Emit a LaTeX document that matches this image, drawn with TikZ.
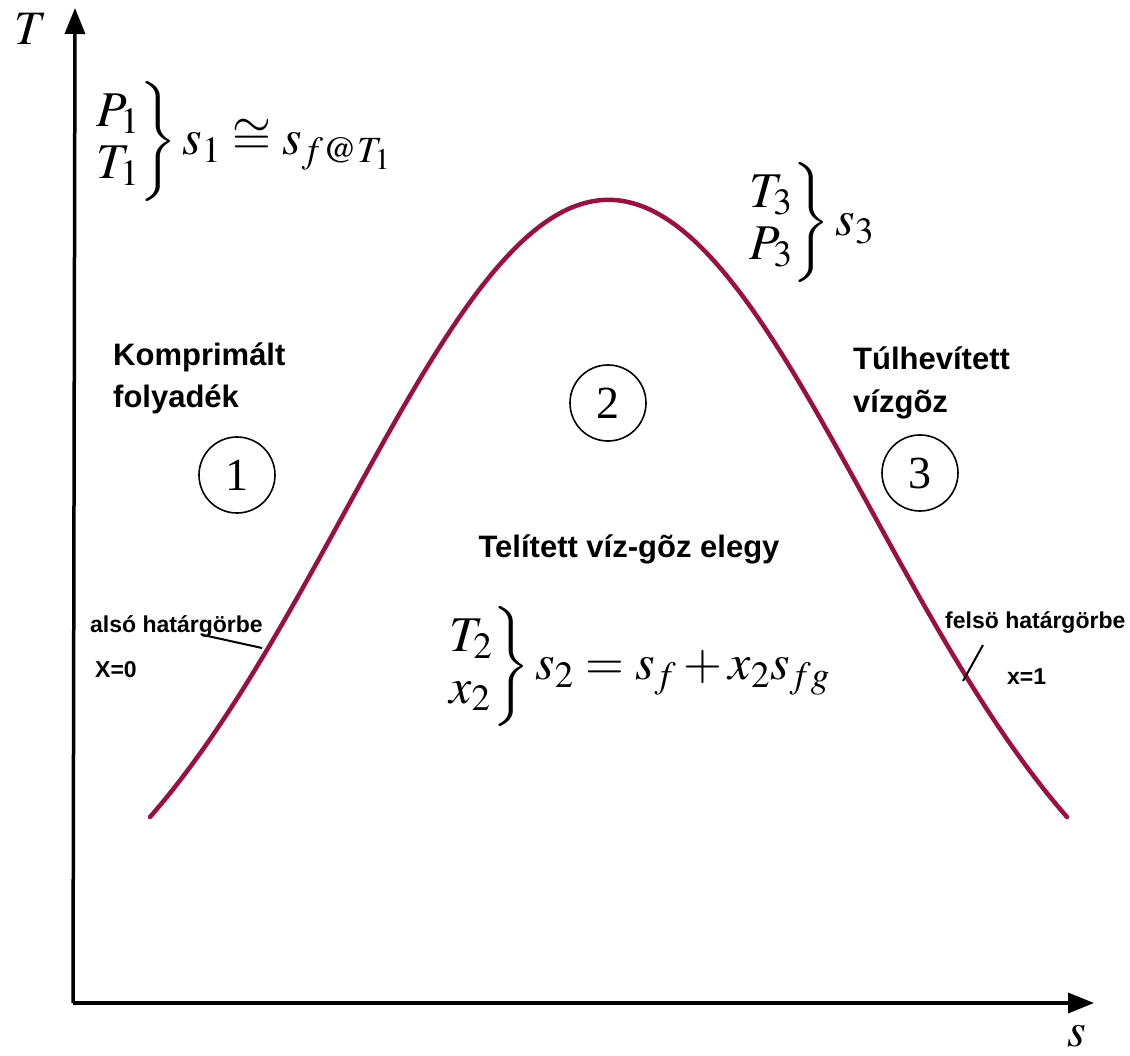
\documentclass[tikz,border=0pt]{standalone}
\usepackage{mathptmx}
\usepackage{fontspec}
\setmainfont{Liberation Serif}
\newfontfamily\lblfont{Liberation Sans}
\usetikzlibrary{arrows.meta}
\definecolor{curvecol}{RGB}{155,16,64}
\tikzset{
  axis/.style={line width=3.5pt, -{Triangle[length=26pt,width=20pt]}},
  satcurve/.style={draw=curvecol, line width=4.5pt, line join=round, line cap=round},
  region/.style={font=\lblfont\bfseries\fontsize{31}{43}\selectfont, align=left, inner sep=0pt},
  small/.style={font=\lblfont\bfseries\fontsize{23}{27}\selectfont, inner sep=0pt},
  stcircle/.style={draw, circle, line width=1.6pt, minimum size=76pt, inner sep=0pt, font=\fontsize{46}{50}\selectfont},
  formula/.style={font=\fontsize{50}{52}\selectfont, inner sep=0pt},
  axlabel/.style={font=\fontsize{48}{52}\selectfont, inner sep=0pt},
  leader/.style={line width=2pt}
}
\begin{document}
\begin{tikzpicture}[x=1pt,y=-1pt]
\useasboundingbox (0,0) rectangle (1130,1056);
% axes
\coordinate (O) at (75,1003);
\coordinate (Ytip) at (75,8);
\coordinate (Xtip) at (1094,1003);
\draw[axis] (73,1003) -- (Ytip);
\draw[axis] (73,1003) -- (Xtip);
\node[axlabel] (Tlab) at (31,29) {$T$};
\node[axlabel] (slab) at (1077,1036) {$s$};
% saturation curve
\draw[satcurve] plot[domain=150:1067, samples=140, smooth] (\x, {200+790*(1-exp(-((\x-608.5)/372)^2))});
% formulas
\node[formula, anchor=west] (f1) at (95,142) {$\left.\begin{array}{@{}l@{}}P_1\\ T_1\end{array}\right\}s_1\cong s_{f@T_1}$};
\node[formula, anchor=west] (f3) at (748,223) {$\left.\begin{array}{@{}l@{}}T_3\\ P_3\end{array}\right\}s_3$};
\node[formula, anchor=west] (f2) at (448,667) {$\left.\begin{array}{@{}l@{}}T_2\\ x_2\end{array}\right\}s_2=s_f+x_2s_{fg}$};
% region labels
\node[region, anchor=base west] (r1) at (113,408) {Komprimált\\folyadék};
\node[region, anchor=base west] (r3) at (853,413) {Túlhevített\\vízgõz};
\node[region, anchor=base] (r2) at (629,557) {Telített víz-gõz elegy};
% circles
\node[stcircle] (c1) at (237,475) {1};
\node[stcircle] (c2) at (608,403) {2};
\node[stcircle] (c3) at (920,473) {3};
% boundary labels
\node[small, anchor=base west] (als) at (90,632) {alsó határgörbe};
\node[small, anchor=west] (x0) at (95,670) {X=0};
\node[small, anchor=west] (fel) at (945,623) {felsö határgörbe};
\node[small, anchor=west] (x1) at (1007,677) {x=1};
\coordinate (l1a) at (203,635);
\coordinate (l1b) at (262,648);
\coordinate (l2a) at (983,645);
\coordinate (l2b) at (963,681);
\draw[leader] (l1a) -- (l1b);
\draw[leader] (l2a) -- (l2b);
\end{tikzpicture}
\end{document}
